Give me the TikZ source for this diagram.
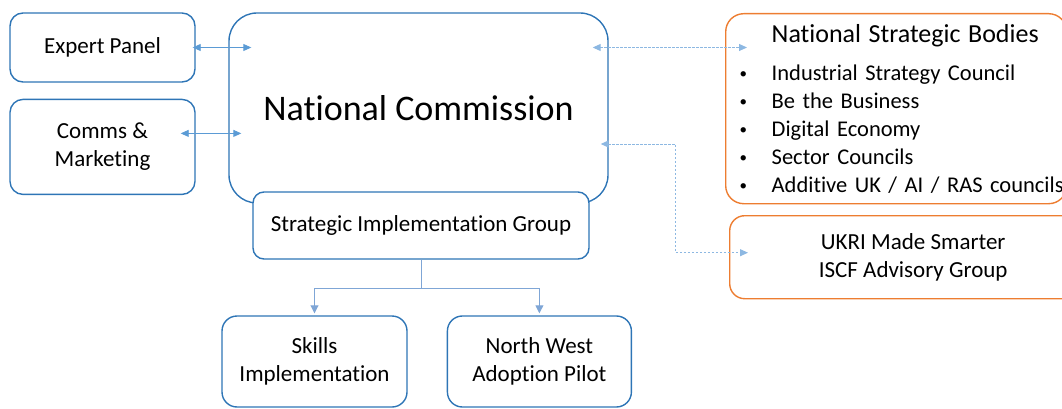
\documentclass[tikz,border=0pt]{standalone}
\usepackage{fontspec}
\setmainfont{Carlito}[Ligatures=NoCommon]
\usepackage{tikz}
\usetikzlibrary{arrows.meta, positioning, calc}

\definecolor{boxblue}{HTML}{2E75B6}
\definecolor{boxorange}{HTML}{ED7D31}
\definecolor{linkblue}{HTML}{5B9BD5}
\definecolor{dotblue}{HTML}{8DB8E2}
\definecolor{treeblue}{HTML}{7FA6D6}

\newcommand{\bul}{\makebox[34pt][l]{\hspace{2pt}{\fontsize{15}{15}\selectfont\raisebox{2pt}{\textbullet}}}}

\begin{document}
\begin{tikzpicture}[
    x=1pt, y=-1pt,
    box/.style={rectangle, draw=boxblue, line width=1.4pt, rounded corners=13pt, align=center, font=\fontsize{23}{28}\selectfont},
    obox/.style={box, draw=boxorange, rounded corners=18pt},
    link/.style={draw=linkblue, line width=0.9pt, {Triangle[length=8pt, width=7pt]}-{Triangle[length=8pt, width=7pt]}},
    dotlink/.style={link, draw=dotblue, dash pattern=on 2.5pt off 1.5pt, line width=1pt},
    treelink/.style={draw=treeblue, line width=0.9pt, -{Triangle[length=8pt, width=8pt]}, shorten >=2pt}
]
    \useasboundingbox (0,0) rectangle (1062,409);

    % centre of the chart
    \node[box, rounded corners=28pt, minimum width=379pt, minimum height=190pt, font=\fontsize{36}{40}\selectfont] (nc) at (418.5,108) {National Commission};
    \node[box, fill=white, rounded corners=11pt, minimum width=336pt, minimum height=67pt] (sig) at (421,225.5) {Strategic Implementation Group};

    % left side
    \node[box, minimum width=185pt, minimum height=69pt] (expert) at (102.5,47.5) {Expert Panel};
    \node[box, minimum width=185pt, minimum height=95pt, below=16pt of expert] (comms) {Comms \&\\Marketing};

    % below
    \node[box, rounded corners=15pt, minimum width=185pt, minimum height=91pt] (skills) at (314.5,361.5) {Skills\\Implementation};
    \node[box, rounded corners=15pt, minimum width=184pt, minimum height=91pt, right=39pt of skills] (nw) {North West\\Adoption Pilot};

    % right side
    \node[obox, anchor=north west, minimum height=190pt, text width=317pt, inner xsep=12pt, align=left, font=\fontsize{22.5}{28}\selectfont] (nsb) at (725,13) {
        \hspace*{34pt}{\fontsize{26}{28}\selectfont National Strategic Bodies}\\[10pt]
        \bul Industrial Strategy Council\\
        \bul Be the Business\\
        \bul Digital Economy\\
        \bul Sector Councils\\
        \mbox{\bul Additive UK / AI / RAS councils}\par\vspace*{7pt}
    };
    \node[obox, rounded corners=15pt, anchor=north west, minimum width=367pt, minimum height=83pt] (ukri) at (729,215) {UKRI Made Smarter\\ISCF Advisory Group};

    % connectors
    \draw[link] ([xshift=-3pt]expert.east) -- ([xshift=23pt]expert.east -| nc.west);
    \draw[link] ([xshift=-15pt, yshift=13.5pt]comms.east) -- ([xshift=13pt, yshift=13.5pt]comms.east -| nc.west);
    \draw[dotlink] ([xshift=-16pt]expert.east -| nc.east) -- ([xshift=22pt]expert.east -| nsb.west);
    \draw[dotlink] ([xshift=-8pt, yshift=-36pt]nc.east) -- ++(75,0) |- ([xshift=19pt, yshift=4.5pt]ukri.west);

    \draw[treelink] (sig.south) -- ++(0,29) -| (skills.north);
    \draw[treelink] (sig.south) -- ++(0,29) -| (nw.north);

\end{tikzpicture}
\end{document}
